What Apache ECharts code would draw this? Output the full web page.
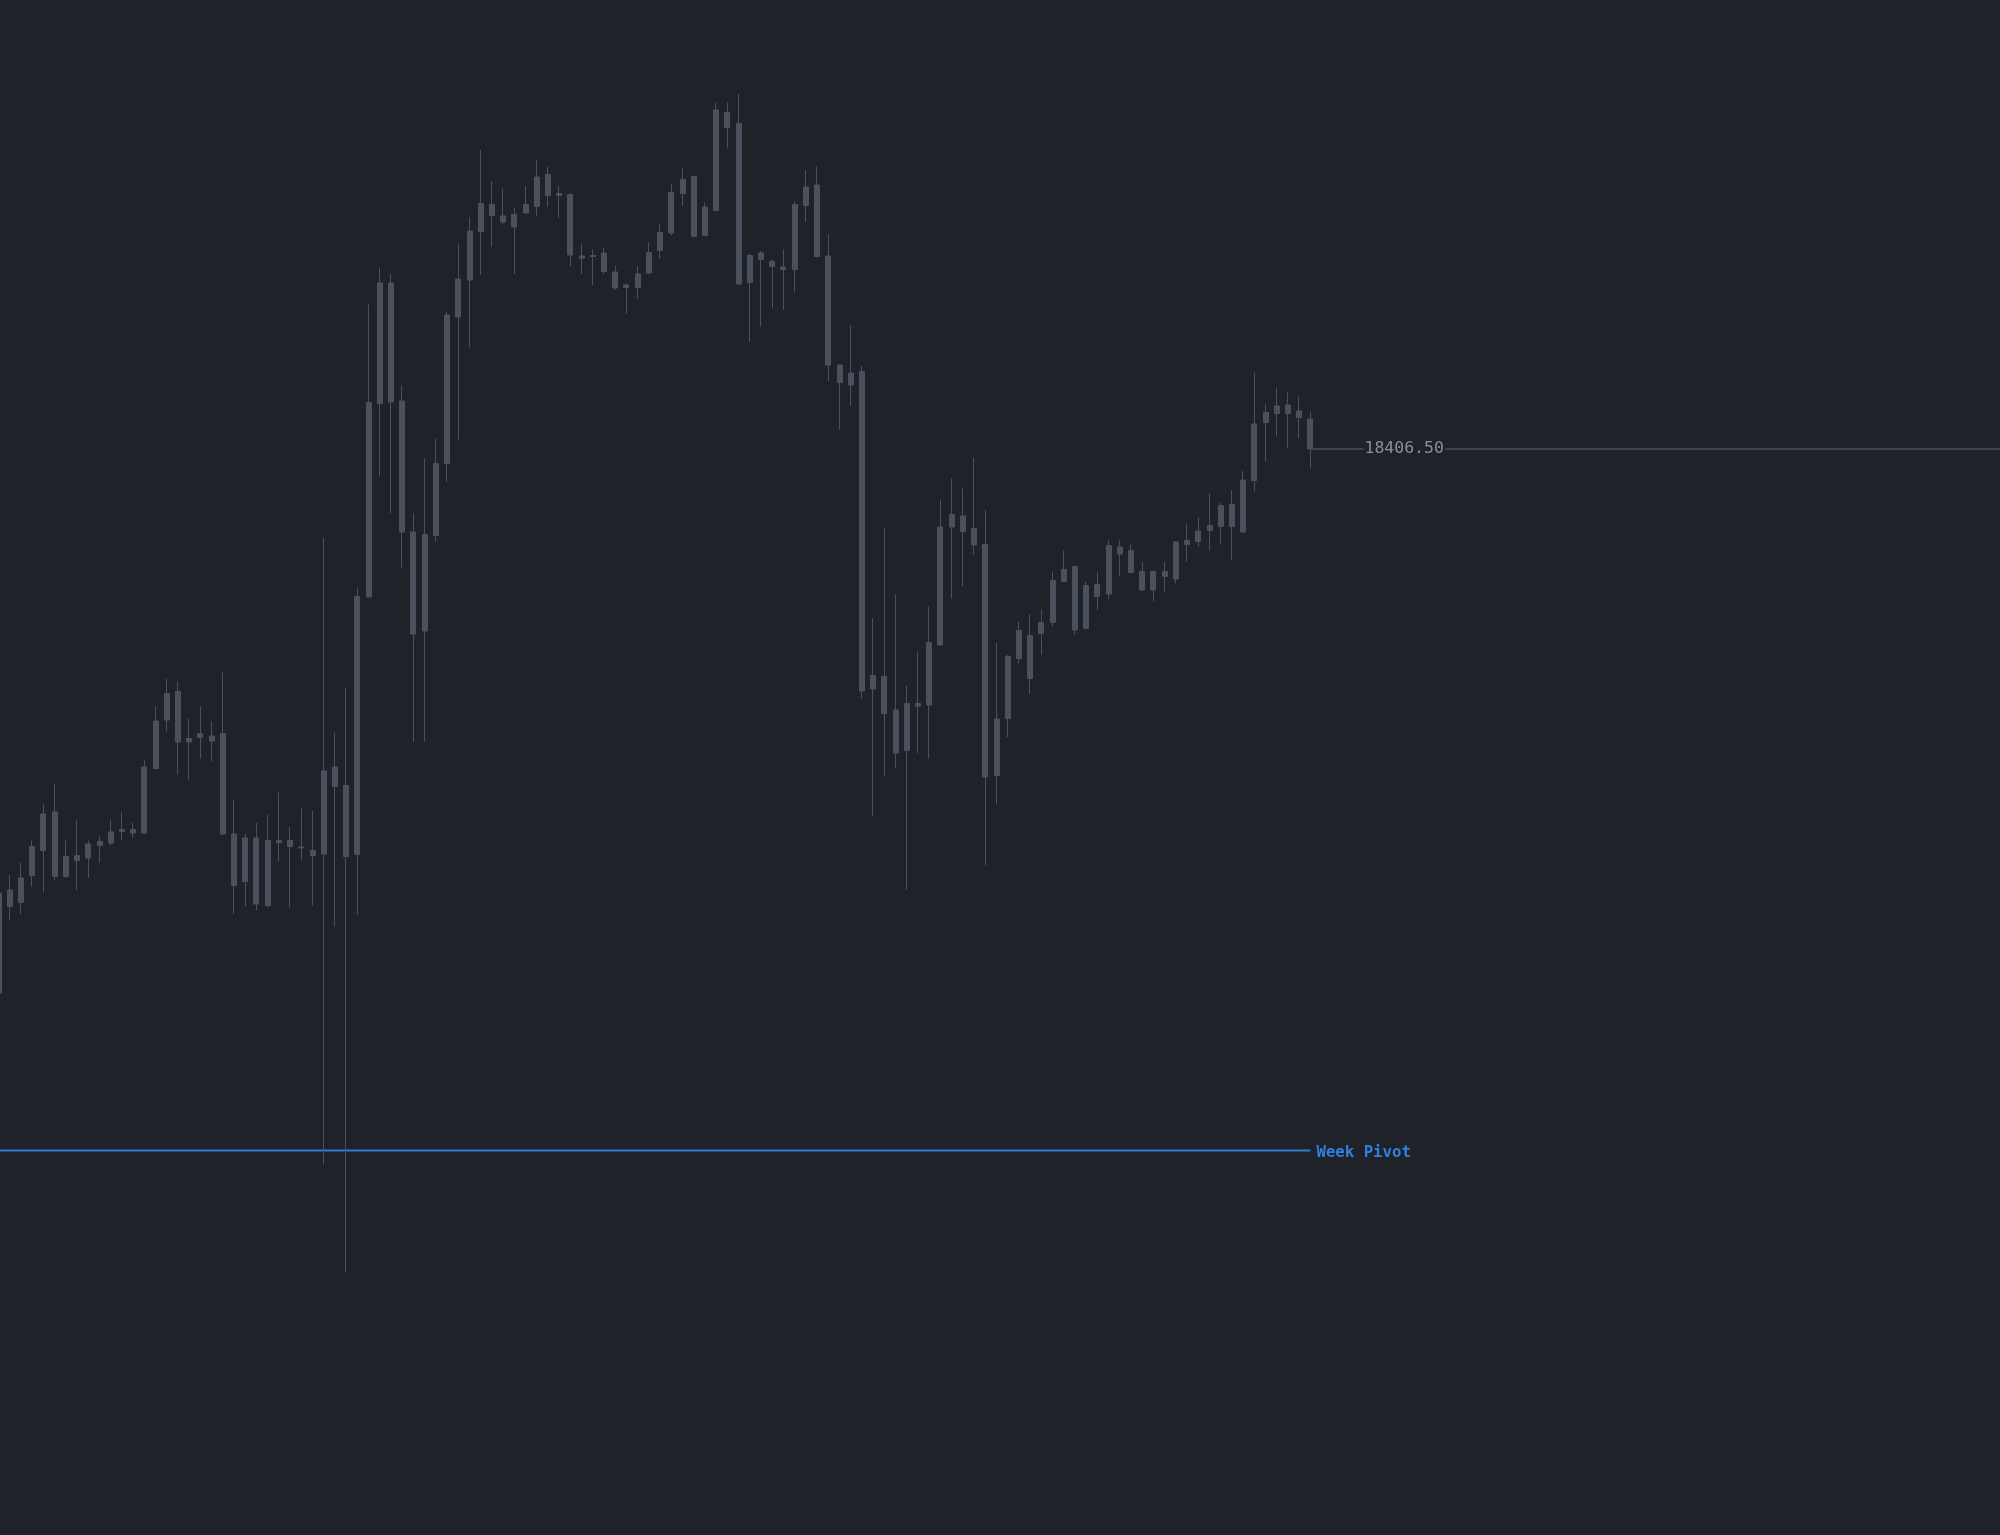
<!DOCTYPE html>
<html>
<head>
<meta charset="utf-8">
<script src="https://cdn.jsdelivr.net/npm/echarts@6/dist/echarts.min.js"></script>
<style>
html,body{margin:0;padding:0;background:#1f2228;overflow:hidden;width:2000px;height:1535px;}
#chart{position:absolute;left:-7px;top:0;width:2007px;height:1535px;}
</style>
</head>
<body>
<div id="chart"></div>
<script>
// ---- data (price bars, oldest first) ----
const opens = [18134.5,18177.75,18179.75,18193.25,18205.75,18225,18192.75,18200.75,18202,18208.25,
18209.5,18215.25,18216.25,18214.5,18246.75,18271,18285.25,18260,18262.25,18263,
18264.25,18214,18190.25,18212,18178.25,18210.75,18210.75,18207.5,18205.75,18204,
18247.5,18238.25,18203.75,18332.5,18429.25,18489.5,18430.5,18365,18315.5,18363.25,
18399.25,18472.5,18491,18515.25,18528.75,18523,18517.5,18524.5,18527.75,18543.75,
18534.25,18533.75,18503,18502.75,18504.5,18495,18487.25,18487.25,18494.5,18505.75,
18514.5,18534.25,18542.75,18513.25,18525.75,18574.75,18569.25,18489.75,18501.25,18500.25,
18497.5,18496.25,18528.25,18538.5,18503,18448.5,18438.5,18445.25,18286.5,18292.75,
18276,18255.75,18279.25,18278.5,18308.5,18367.5,18373,18366.75,18358.75,18243.25,
18271.75,18301.75,18313.25,18314.25,18319.75,18346.25,18347.75,18316.75,18332.75,18334,
18357.5,18355.75,18345.25,18336,18342.75,18341.5,18358.75,18360.25,18365.75,18367.75,
18378.75,18365,18390.75,18419.75,18424.25,18428.5,18425.5,18421.5];
const closes = [18184.5,18186,18192,18207.75,18224,18192.75,18202.75,18203.25,18209,18210.25,
18215,18216.25,18214.5,18247.5,18270.5,18284.25,18260,18261.75,18264.25,18260.5,
18214,18188.25,18212,18179,18210.75,18209.75,18207.75,18207,18203.25,18245.5,
18237.75,18202.75,18332.75,18429.75,18489.5,18430,18365,18314,18363.75,18399.25,
18473.5,18491.5,18515.5,18529.25,18523.25,18520,18523.75,18528.75,18542.5,18533.25,
18533.25,18503.5,18502,18503.25,18495.25,18487,18488.5,18494,18504.75,18514.75,
18534.75,18541.25,18512.75,18527.5,18576,18567.25,18489,18503.25,18504.5,18497.75,
18496.25,18528.75,18537.5,18502.75,18448.5,18439.75,18444.5,18285.5,18293.25,18274.25,
18254.5,18279.25,18278,18309.75,18367.5,18373.75,18365.25,18358.5,18242.5,18271.5,
18302.75,18315.75,18291.75,18319.75,18340.75,18340.25,18316,18338.25,18338.75,18358.25,
18354,18344.75,18336,18345.25,18345.25,18360,18360.75,18365.5,18368.25,18378.25,
18367.75,18391,18419,18424.75,18428,18424.25,18422.25,18406.5];
const lows = [18133.5,18171,18174,18187.75,18184.75,18191,18192,18186,18192,18199.75,
18208.25,18210.75,18212.25,18214,18246.5,18265.25,18243.75,18241.25,18251.75,18250.25,
18213.75,18174,18177.75,18176,18177.25,18200.25,18177.25,18200.75,18178.25,18048.75,
18167.75,17995,18173.5,18332.25,18393,18374.25,18347.25,18260,18260.25,18360.25,
18390,18411.25,18457.25,18493.5,18507.5,18518.75,18494,18524.25,18522.75,18527.5,
18522,18497.75,18494,18488.5,18494,18486,18474.25,18481.5,18494,18501.5,
18513.25,18528.25,18512.5,18513,18525.5,18556.75,18488.75,18460.25,18467.75,18477,
18476,18484.75,18520.25,18502.25,18440.5,18416.25,18428.25,18281.5,18222.75,18243,
18247,18186.25,18254.5,18251.75,18308.25,18331.75,18337.75,18353.5,18198.5,18229,
18262.5,18299.25,18284.25,18303.5,18317.75,18340,18313.5,18316.5,18326,18331.5,
18342.75,18344.5,18335.75,18330.25,18334.75,18339.25,18350.25,18357.75,18355.75,18359,
18350.75,18364.75,18385.25,18400.25,18413,18406.75,18411.75,18396.75];
const highs = [18186,18193.5,18199.75,18210.75,18228.75,18239.25,18210.75,18220.75,18210.75,18212.75,
18221.25,18225,18219.75,18251,18277.75,18291.5,18290.25,18271.75,18277.75,18270.25,
18294.75,18231.25,18214,18219.5,18223.75,18234.75,18217.5,18226.75,18225.5,18362,
18264.75,18287.25,18337,18478.75,18497,18494,18438.25,18374.5,18401.75,18411.75,
18475.25,18509.25,18522.5,18556,18540.5,18536.75,18527.25,18538,18551.25,18547.5,
18538,18534.25,18509.25,18506.25,18507,18498,18489.25,18498,18509.75,18519.25,
18539.25,18546.75,18543,18529.75,18579.75,18579.75,18584,18504.25,18505.5,18501.25,
18506.25,18530.25,18546,18547.75,18513.75,18448.75,18468.5,18448,18322,18367.25,
18333.75,18288.25,18305.25,18327.75,18381,18391.75,18386.75,18402.25,18376,18309.5,
18303.5,18320.25,18323.75,18326.25,18345,18355.75,18348.25,18340.25,18345,18360.75,
18360.75,18358.75,18350,18345.75,18350,18360.5,18369.25,18372.25,18384.25,18379.75,
18386,18395.5,18444.75,18429,18437.25,18434.75,18432.75,18425.25];
const weekPivot = 18055.75;
const pivotLabel = 'Week Pivot';
const priceMin = 17863.5;
const priceMax = 18631;
const totalSlots = 179; // bar slots on the time axis (incl. empty future space)

// ---- build ----
const categories = Array.from({length: totalSlots}, (_, i) => String(i));
const candles = opens.map((o, i) => [o, closes[i], lows[i], highs[i]]);
const lastIdx = closes.length - 1;
const lastClose = closes[lastIdx];
const lastCenter = lastIdx + 0.5; // slot centre on the helper value axis

const BG = '#1f2228';
const CANDLE = '#4b515c';
const hidden = {axisLine: {show: false}, axisTick: {show: false}, axisLabel: {show: false}, splitLine: {show: false}};
const chart = echarts.init(document.getElementById('chart'), null, {renderer: 'canvas'});
chart.setOption({
  backgroundColor: BG,
  animation: false,
  grid: {left: 0, right: 0, top: 0, bottom: 0, containLabel: false},
  xAxis: [
    Object.assign({type: 'category', data: categories, boundaryGap: true}, hidden),
    Object.assign({type: 'value', min: 0, max: totalSlots, show: false}, hidden)
  ],
  yAxis: Object.assign({type: 'value', min: priceMin, max: priceMax, scale: true}, hidden),
  series: [
    {
      type: 'candlestick',
      data: candles,
      barWidth: 5.5,
      itemStyle: {color: CANDLE, color0: CANDLE, borderColor: CANDLE, borderColor0: CANDLE, borderWidth: 1},
      z: 3
    },
    {
      type: 'line',
      xAxisIndex: 1,
      data: [[0, weekPivot], [lastCenter, weekPivot]],
      symbol: 'none',
      silent: true,
      lineStyle: {color: '#2b7dd6', width: 2},
      endLabel: {show: true, formatter: pivotLabel, distance: 6, offset: [0, 2], color: '#2f82dc',
                 fontWeight: 'bold', fontFamily: 'DejaVu Sans Mono', fontSize: 15.7},
      z: 1
    },
    {
      type: 'line',
      xAxisIndex: 1,
      data: [[lastCenter, lastClose], [totalSlots, lastClose]],
      symbol: 'none',
      silent: true,
      lineStyle: {opacity: 0},
      z: 1,
      markLine: {
        silent: true,
        symbol: ['none', 'none'],
        animation: false,
        lineStyle: {color: '#4a4f58', width: 1.6, type: 'solid', opacity: 1},
        data: [[
          {coord: [lastCenter, lastClose],
           label: {show: true, position: 'insideStart', distance: [53, 0], opacity: 1,
                   formatter: lastClose.toFixed(2), color: '#8c8f95', fontWeight: 500,
                   fontFamily: 'DejaVu Sans Mono', fontSize: 16.5,
                   backgroundColor: BG, padding: [9, 1, 0, 1]}},
          {coord: [totalSlots, lastClose]}
        ]]
      }
    }
  ]
});
</script>
</body>
</html>
